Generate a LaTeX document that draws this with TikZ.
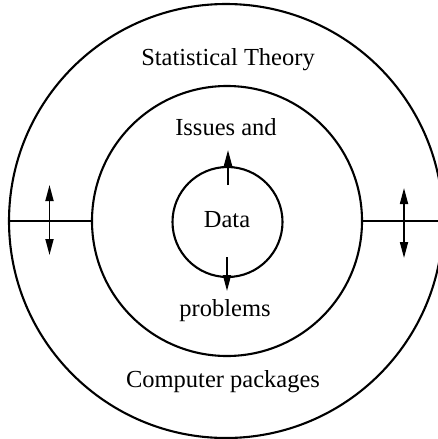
\documentclass[tikz,border=0pt]{standalone}
\usepackage{fontspec}
\setmainfont{Liberation Serif}
\usetikzlibrary{arrows.meta}
\tikzset{
  ring/.style={circle, draw, line width=2.1pt, inner sep=0pt},
  lbl/.style={font=\fontsize{24.5}{28}\selectfont, inner sep=0pt},
  conn/.style={line width=2.1pt},
  dbl/.style={line width=1.7pt, {Triangle[length=16pt,width=8pt]}-{Triangle[length=16pt,width=8pt]}},
  sgl/.style={line width=1.7pt, -{Triangle[length=16pt,width=8pt]}}
}
\begin{document}
\begin{tikzpicture}[x=1pt,y=-1pt]
\useasboundingbox (0,0) rectangle (438,439);
\clip (0,0) rectangle (438,439);
\node[ring, minimum size=434pt] (outer) at (226,221) {};
\node[ring, minimum size=270pt] (middle) at (227,221) {};
\node[ring, minimum size=110pt] (data) at (227.5,222) {};
\node[lbl] (dlbl) at (227,220) {Data};
\node[lbl] (stat) at (228,60) {Statistical Theory};
\node[lbl] (iss) at (226,127) {Issues and};
\node[lbl] (prob) at (225,311) {problems};
\node[lbl] (comp) at (223,382) {Computer packages};
\draw[conn] (outer.west) -- (middle.west);
\draw[conn] (middle.east) -- (outer.east);
\coordinate (la) at (49.5,185);
\coordinate (lb) at (49.5,255);
\coordinate (ra) at (404,188);
\coordinate (rb) at (404,258);
\draw[dbl] (la) -- (lb);
\draw[dbl] (ra) -- (rb);
\coordinate (ts) at (228,185);
\coordinate (te) at (228,150);
\coordinate (bs) at (227,257);
\coordinate (be) at (227,291);
\draw[sgl] (ts) -- (te);
\draw[sgl] (bs) -- (be);
\end{tikzpicture}
\end{document}
